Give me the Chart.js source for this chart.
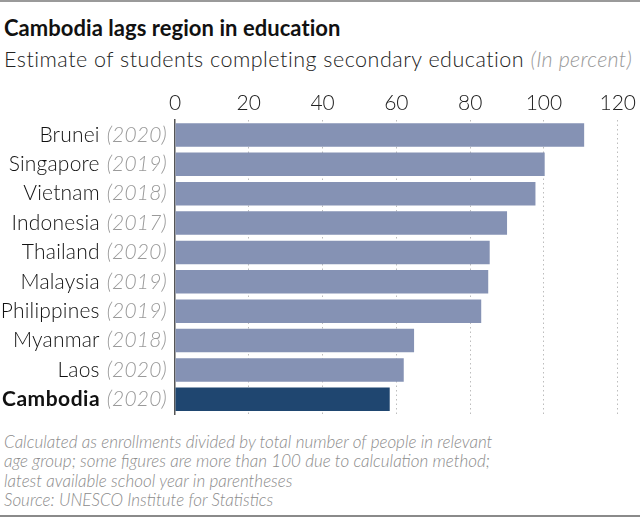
<!DOCTYPE html>
<html>
<head>
<meta charset="utf-8">
<script src="https://cdn.jsdelivr.net/npm/chart.js@4/dist/chart.umd.min.js"></script>
<style>
  html, body { margin: 0; padding: 0; background: #fff; }
  #wrap { position: relative; width: 640px; height: 519px; overflow: hidden; font-family: Lato, "Noto Sans", sans-serif; }
  #topline { position: absolute; left: 0; top: 0; width: 640px; height: 2px; background: #9a9a9a; }
  #botline { position: absolute; left: 0; top: 515px; width: 640px; height: 2px; background: #8a8a8a; }
  h1 { position: absolute; left: 4px; top: 14px; margin: 0; font-size: 22px; font-weight: 700; color: #111; letter-spacing: 0.05px; }
  #sub { position: absolute; left: 4px; top: 46px; margin: 0; font-size: 21.5px; font-weight: 300; color: #222; white-space: nowrap; letter-spacing: 0.5px; }
  #sub i { color: #999; letter-spacing: 0.3px; }
  #chart-area { position: absolute; left: 0; top: 84px; width: 640px; height: 340px; }
  #note { position: absolute; left: 4px; top: 432px; margin: 0; font-size: 17px; line-height: 19.3px; font-style: italic; font-weight: 300; color: #8c8c8c; }
</style>
</head>
<body>
<div id="wrap">
  <div id="topline"></div>
  <h1>Cambodia lags region in education</h1>
  <p id="sub">Estimate of students completing secondary education <i>(In percent)</i></p>
  <div id="chart-area"><canvas id="c" width="640" height="340"></canvas></div>
  <p id="note">Calculated as enrollments divided by total number of people in relevant<br>age group; some figures are more than 100 due to calculation method;<br>latest available school year in parentheses<br>Source: UNESCO Institute for Statistics</p>
  <div id="botline"></div>
</div>
<script>
const countries = ["Brunei", "Singapore", "Vietnam", "Indonesia", "Thailand", "Malaysia", "Philippines", "Myanmar", "Laos", "Cambodia"];
const years = ["2020", "2019", "2018", "2017", "2020", "2019", "2019", "2018", "2020", "2020"];
const completion = [110.9, 100.2, 97.7, 90.0, 85.3, 84.9, 83.0, 64.8, 62.0, 58.2];
const xTicks = [0, 20, 40, 60, 80, 100, 120];

const FONT = 'Lato, "Noto Sans", sans-serif';

// y labels drawn by hand: country in dark, year in grey italics
const labelPlugin = {
  id: 'mixedLabels',
  afterDraw(chart) {
    const ctx = chart.ctx;
    const yScale = chart.scales.y;
    const right = chart.chartArea.left - 8;
    ctx.save();
    ctx.textBaseline = 'middle';
    ctx.textAlign = 'right';
    countries.forEach((name, i) => {
      const y = yScale.getPixelForValue(i);
      const isCam = name === 'Cambodia';
      ctx.letterSpacing = '0.2px';
      ctx.font = 'italic 300 21px ' + FONT;
      ctx.fillStyle = '#9a9a9a';
      const yr = '(' + years[i] + ')';
      ctx.fillText(yr, right, y);
      const w = ctx.measureText(yr).width;
      ctx.letterSpacing = isCam ? '0.5px' : '0.2px';
      ctx.font = (isCam ? '700 ' : '300 ') + '21px ' + FONT;
      ctx.fillStyle = '#111';
      ctx.fillText(name + ' ', right - w - 1, y);
    });
    ctx.restore();
  }
};

new Chart(document.getElementById('c'), {
  type: 'bar',
  data: {
    labels: countries,
    datasets: [{
      data: completion,
      backgroundColor: countries.map(c => c === 'Cambodia' ? '#1f4670' : '#8592b4'),
      borderWidth: 0,
      barPercentage: 0.8,
      categoryPercentage: 1.0
    }]
  },
  options: {
    indexAxis: 'y',
    responsive: false,
    animation: false,
    layout: { padding: { left: 0, right: 15, top: 3, bottom: 10 } },
    plugins: { legend: { display: false }, tooltip: { enabled: false } },
    scales: {
      x: {
        position: 'top',
        min: 0,
        max: 120,
        afterBuildTicks(axis) { axis.ticks = xTicks.map(v => ({ value: v })); },
        ticks: { font: { family: FONT, size: 21, weight: 300 }, color: '#222', padding: 4 },
        grid: {
          color: ctx => ctx.tick && ctx.tick.value === 0 ? 'rgba(0,0,0,0)' : '#bdbdbd',
          lineWidth: 1,
          drawTicks: false
        },
        border: { display: false, dash: [1.5, 3] }
      },
      y: {
        afterFit(axis) { axis.width = 175; },
        ticks: { display: false },
        grid: { display: false },
        border: { display: true, color: '#555', width: 1.5 }
      }
    }
  },
  plugins: [labelPlugin]
});
</script>
</body>
</html>
